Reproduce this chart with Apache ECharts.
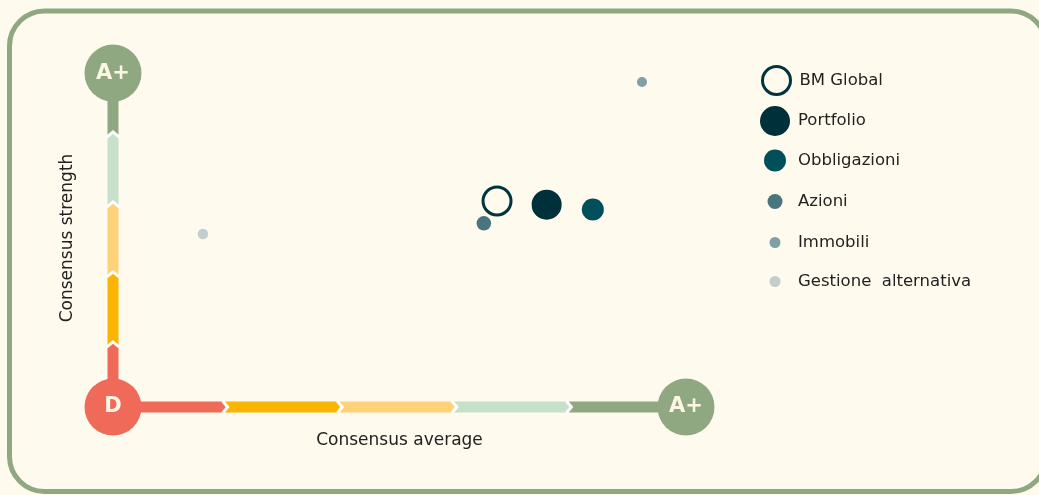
<!DOCTYPE html>
<html><head><meta charset="utf-8">
<script src="https://cdn.jsdelivr.net/npm/echarts@6.0.0/dist/echarts.min.js"></script>
<style>html,body{margin:0;padding:0;background:#fffaee;overflow:hidden;}#c{width:1039px;height:495px;}</style>
</head><body><div id="c"></div>
<script>
// ---- data ----
const seriesNames = ['BM Global', 'Portfolio', 'Obbligazioni', 'Azioni', 'Immobili', 'Gestione  alternativa'];
const averageValues = [3.351, 3.784, 4.187, 3.236, 4.616, 0.785];
const strengthValues = [2.943, 2.890, 2.821, 2.624, 4.643, 2.471];
const seriesColors = ['#02343f', '#00303a', '#004f5a', '#48757e', '#80a0a6', '#c2cdcc'];
const seriesSizes = [28, 30, 22, 14.5, 10, 10.5];
const legendSizes = [28, 30, 22, 15, 11, 11];
const averageBands = [0, 1, 2, 3, 4, 5];
const strengthBands = [0, 0.93, 1.93, 2.93, 3.93, 4.77];
const bandColors = ['#f06a5a', '#fbb400', '#ffd27a', '#c6e0c9', '#8fa882'];
const axisNames = ['Consensus average', 'Consensus strength'];
const nodeLabels = ['D', 'A+', 'A+'];

// ---- layout ----
const FONT = 'DejaVu Sans';
const legendCenterY = [79, 121, 160.5, 201.5, 242.5, 281.5];
const legendIconX = 775, legendTextX = 798;

const chart = echarts.init(document.getElementById('c'), null, {renderer: 'canvas'});

function bandSeries(dir) {
  const bounds = dir === 'h' ? averageBands : strengthBands;
  const n = bounds.length - 1;
  const data = [];
  for (let i = 0; i < n; i++) data.push([bounds[i], bounds[i + 1], i]);
  return {
    type: 'custom', coordinateSystem: 'cartesian2d', clip: false, silent: true, z: 1,
    encode: dir === 'h' ? {x: [0, 1], y: 2} : {y: [0, 1], x: 2},
    data: data,
    renderItem: function (params, api) {
      const a = api.value(0), b = api.value(1), idx = api.value(2);
      const T = 11, d = 5;
      let pts = [], sep = null;
      if (dir === 'h') {
        const pa = api.coord([a, 0]), pb = api.coord([b, 0]);
        const y = pa[1], t = y - T / 2, bt = y + T / 2, xa = pa[0], xb = pb[0];
        pts.push(idx === 0 ? [xa, t] : [xa - d, t]);
        if (idx === n - 1) pts.push([xb, t], [xb, bt]); else pts.push([xb - d, t], [xb, y], [xb - d, bt]);
        if (idx === 0) pts.push([xa, bt]); else pts.push([xa - d, bt], [xa, y]);
        if (idx > 0) sep = [[xa - d, t - 0.5], [xa, y], [xa - d, bt + 0.5]];
      } else {
        const pa = api.coord([0, a]), pb = api.coord([0, b]);
        const x = pa[0], l = x - T / 2, r = x + T / 2, ya = pa[1], yb = pb[1];
        pts.push(idx === 0 ? [l, ya] : [l, ya + d]);
        if (idx === n - 1) pts.push([l, yb], [r, yb]); else pts.push([l, yb + d], [x, yb], [r, yb + d]);
        if (idx === 0) pts.push([r, ya]); else pts.push([r, ya + d], [x, ya]);
        if (idx > 0) sep = [[l - 0.5, ya + d], [x, ya], [r + 0.5, ya + d]];
      }
      const children = [{type: 'polygon', shape: {points: pts}, style: {fill: bandColors[idx]}}];
      if (sep) children.push({type: 'polyline', shape: {points: sep}, style: {stroke: '#ffffff', lineWidth: 3, fill: null}});
      return {type: 'group', children: children};
    }
  };
}

const nodeData = [
  {name: nodeLabels[0], value: [averageBands[0], strengthBands[0]], itemStyle: {color: bandColors[0], opacity: 1}},
  {name: nodeLabels[1], value: [averageBands[0], strengthBands[strengthBands.length - 1]], itemStyle: {color: bandColors[4], opacity: 1}},
  {name: nodeLabels[2], value: [averageBands[averageBands.length - 1], strengthBands[0]], itemStyle: {color: bandColors[4], opacity: 1}}
];

const series = [bandSeries('h'), bandSeries('v'), {
  type: 'scatter', name: '__nodes', data: nodeData, symbolSize: 57, z: 5, silent: true,
  itemStyle: {opacity: 1},
  label: {show: true, position: 'inside', formatter: p => p.name, color: '#fdf6e4', fontSize: 21, fontWeight: 'bold', fontFamily: FONT}
}];

seriesNames.forEach((nm, i) => {
  const hollow = i === 0;
  series.push({
    type: 'scatter', name: nm, z: 6,
    data: [[averageValues[i], strengthValues[i]]],
    symbol: 'circle', symbolSize: seriesSizes[i],
    itemStyle: hollow ? {color: 'rgba(0,0,0,0)', borderColor: seriesColors[i], borderWidth: 3, opacity: 1} : {color: seriesColors[i], opacity: 1}
  });
});

const legends = seriesNames.map((nm, i) => {
  const s = legendSizes[i];
  const h = Math.max(s, 20);
  const lg = {
    data: [nm], orient: 'vertical', left: legendIconX - s / 2, top: legendCenterY[i] - h / 2, padding: 0,
    itemWidth: s, itemHeight: s, itemGap: 0, selectedMode: false,
    textStyle: {fontFamily: FONT, fontSize: 16.5, color: '#222222', lineHeight: 20,
      padding: [0, 0, 0, legendTextX - (legendIconX + s / 2 + 5)]}
  };
  if (i === 0) lg.itemStyle = {borderWidth: 3};
  return lg;
});

chart.setOption({
  backgroundColor: '#fffaee',
  animation: false,
  textStyle: {fontFamily: FONT},
  graphic: [{
    type: 'rect', z: -10, silent: true,
    shape: {x: 9.5, y: 11, width: 1036.5, height: 480.5, r: 35},
    style: {fill: null, stroke: '#8fa882', lineWidth: 5}
  }],
  grid: {left: 113, right: 353, top: 57, bottom: 88},
  xAxis: {
    type: 'value', min: 0, max: 5, name: axisNames[0], nameLocation: 'middle', nameGap: 25,
    nameTextStyle: {fontFamily: FONT, fontSize: 17, color: '#222222'},
    axisLine: {show: false}, axisTick: {show: false}, axisLabel: {show: false}, splitLine: {show: false}
  },
  yAxis: {
    type: 'value', min: 0, max: 5, name: axisNames[1], nameLocation: 'middle', nameGap: 37,
    nameTextStyle: {fontFamily: FONT, fontSize: 17, color: '#222222', padding: [0, 12, 0, 0]},
    axisLine: {show: false}, axisTick: {show: false}, axisLabel: {show: false}, splitLine: {show: false}
  },
  legend: legends,
  series: series
});
</script>
</body></html>
